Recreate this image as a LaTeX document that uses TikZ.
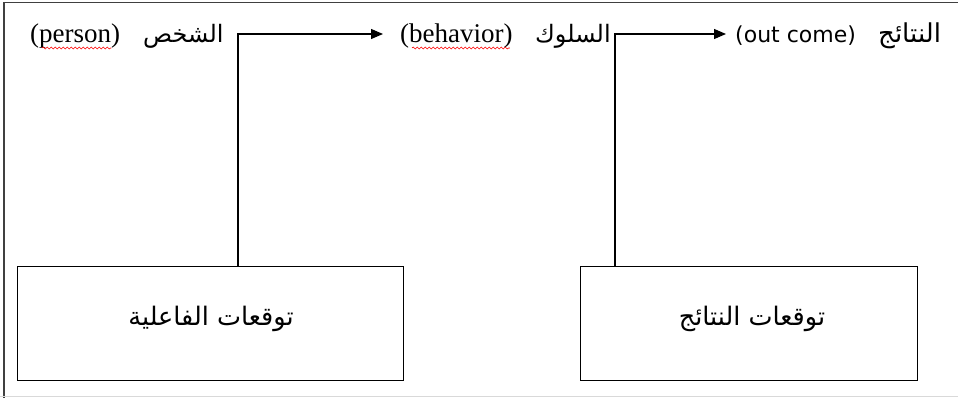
\documentclass[tikz,border=0pt]{standalone}
\usepackage{fontspec}
\setmainfont{Liberation Serif}
\newfontfamily\arabicfont[Script=Arabic]{DejaVu Sans}
\newfontfamily\latsans{DejaVu Sans}
\TeXXeTstate=1
\usetikzlibrary{arrows.meta,decorations.pathmorphing}
\begin{document}
\begin{tikzpicture}[x=1pt,y=-1pt,
  lat/.style={font=\fontsize{27}{30}\selectfont, inner sep=0pt, anchor=base west},
  arb/.style={font=\arabicfont\fontsize{24}{28}\selectfont, inner sep=0pt, anchor=base west},
  boxtxt/.style={font=\arabicfont\fontsize{25.5}{30}\selectfont, inner sep=0pt},
  cbox/.style={draw, line width=1.3pt, minimum width=386pt, minimum height=114pt, anchor=north west},
  conn/.style={line width=1.1pt, -{Triangle[length=12pt,width=10pt]}},
  spell/.style={red, line width=0.6pt, decorate, decoration={snake, segment length=4pt, amplitude=1pt}}
]
\useasboundingbox (0,0) rectangle (958,398);
% frame
\draw[line width=1.5pt, black!75] (4,398) -- (4,2.5) -- (958,2.5);
\draw[line width=1.2pt, black!15] (0,396.5) -- (958,396.5);
% boxes
\node[cbox] (b1) at (17,266) {};
\node[cbox, minimum width=337pt] (b2) at (580,266) {};
\node[boxtxt] (t1) at (211,319) {\beginR توقعات الفاعلية\endR};
\node[boxtxt] (t2) at (752,319) {\beginR توقعات النتائج\endR};
% top labels
\node[lat] (pers) at (30,43) {(person)};
\node[arb] (persa) at (143,43) {\beginR الشخص\endR};
\node[lat] (beh) at (400,43) {(behavior)};
\node[arb] (beha) at (535,43) {\beginR السلوك\endR};
\node[lat, font=\latsans\fontsize{22}{26}\selectfont] (out) at (735,43) {(out come)};
\node[arb, font=\arabicfont\fontsize{26}{30}\selectfont] (outa) at (878,43) {\beginR النتائج\endR};
% spelling marks
\draw[spell] ([xshift=12pt,yshift=-5pt]pers.base west) -- ([xshift=-9pt,yshift=-5pt]pers.base east);
\draw[spell] ([xshift=12pt,yshift=-5pt]beh.base west) -- ([xshift=-3pt,yshift=-5pt]beh.base east);
% connectors
\coordinate (c1) at (238,266);
\coordinate (c2) at (615,266);
\coordinate (e1) at (383,34);
\coordinate (e2) at (726,34);
\draw[conn] (c1) |- (e1);
\draw[conn] (c2) |- (e2);
\end{tikzpicture}
\end{document}
